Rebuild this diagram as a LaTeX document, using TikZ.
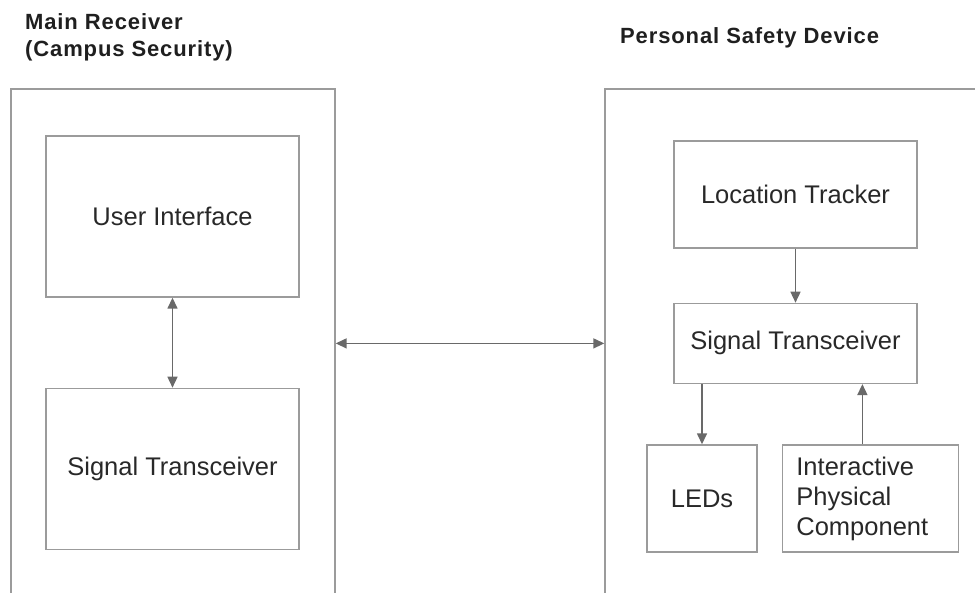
\documentclass[tikz,border=0pt]{standalone}
\usepackage{fontspec}
\setmainfont{Liberation Sans}
\newfontfamily\headfont[LetterSpace=4]{Liberation Sans}
\usetikzlibrary{arrows.meta,positioning}
\definecolor{boxgray}{RGB}{155,155,155}
\definecolor{arrowgray}{RGB}{105,105,105}
\definecolor{textgray}{RGB}{40,40,40}

\begin{document}
\begin{tikzpicture}[
  x=1pt, y=-1pt,
  part/.style={rectangle, draw=boxgray, line width=1.4pt, text=textgray,
    font=\fontsize{25.5}{30}\selectfont, align=center, inner sep=0pt},
  heading/.style={font=\headfont\bfseries\fontsize{22}{27}\selectfont,
    text=black!88, align=left, anchor=north west, inner sep=0pt},
  link/.style={{Triangle[length=11pt,width=10pt]}-{Triangle[length=11pt,width=10pt]},
    draw=arrowgray, line width=1.5pt},
  flow/.style={-{Triangle[length=11pt,width=10pt]}, draw=arrowgray, line width=1.5pt}
]
\useasboundingbox (0,0) rectangle (975,593);
\clip (0,0) rectangle (975,593);

% Headings
\node[heading] (rxtitle) at (25,13) {Main Receiver\\(Campus Security)};
\node[heading] (devtitle) at (620,27) {Personal Safety Device};

% Main receiver
\node[part, minimum width=324pt, minimum height=560pt] (receiver) at (173,369) {};
\node[part, minimum width=253pt, minimum height=161pt] (ui) at (172.5,216.5) {User Interface};
\node[part, minimum width=253pt, minimum height=161pt, below=90pt of ui] (rxst) {Signal Transceiver};

% Personal safety device
\node[part, minimum width=420pt, minimum height=560pt] (device) at (815,369) {};
\node[part, minimum width=243pt, minimum height=107pt] (tracker) at (795.5,194.5) {Location Tracker};
\node[part, minimum width=243pt, minimum height=80pt, below=54pt of tracker] (devst) {Signal Transceiver};
\node[part, minimum width=110pt, minimum height=107pt] (leds) at (702,498.5) {LEDs};
\node[part, minimum width=176pt, minimum height=107pt, align=left, text width=148pt,
  inner xsep=14pt, right=24pt of leds] (button) {Interactive\\Physical\\Component};

% Arrows
\draw[link] (ui) -- (rxst);
\draw[link] (receiver.east |- devst) -- (device.west |- devst);
\draw[flow] (tracker) -- (devst);
\draw[flow] (devst.south -| leds) -- (leds);
\draw[flow] ([xshift=-8pt]button.north) -- ([xshift=-8pt]button.north |- devst.south);

\end{tikzpicture}
\end{document}
